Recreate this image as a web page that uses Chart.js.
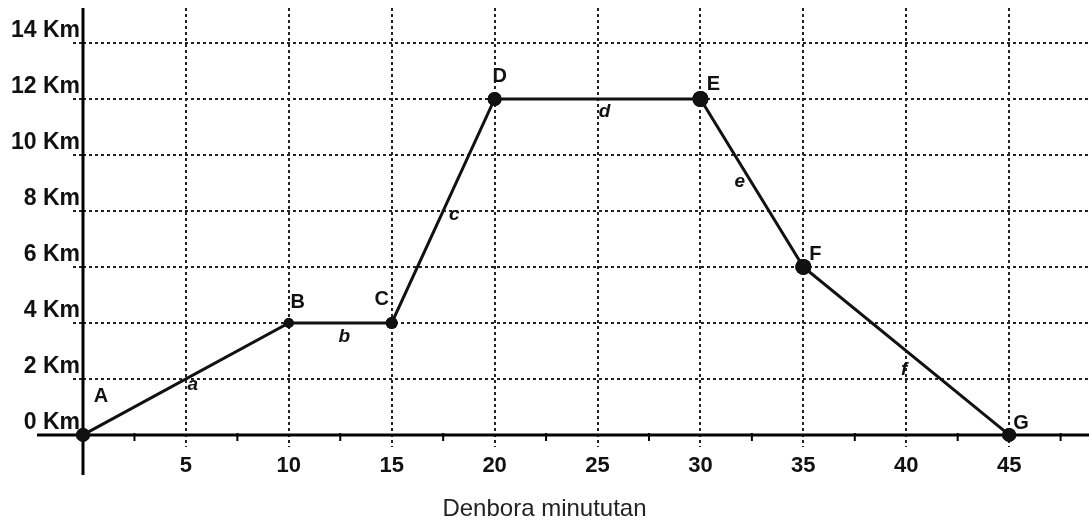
<!DOCTYPE html>
<html>
<head>
<meta charset="utf-8">
<script src="https://cdn.jsdelivr.net/npm/chart.js@4.4.1/dist/chart.umd.min.js"></script>
<style>
  html, body { margin: 0; padding: 0; background: #fff; }
  #wrap { width: 1089px; height: 524px; position: relative; }
</style>
</head>
<body>
<div id="wrap"><canvas id="chart"></canvas></div>
<script>
// distance / time graph: A..G stages, dotted grid, Basque axis title

const minutes = [0, 10, 15, 20, 30, 35, 45];
const distanceKm = [0, 4, 4, 12, 12, 6, 0];
const pointNames = ['A', 'B', 'C', 'D', 'E', 'F', 'G'];
const segmentNames = ['a', 'b', 'c', 'd', 'e', 'f'];
const xTickValues = [5, 10, 15, 20, 25, 30, 35, 40, 45];
const yTickValues = [0, 2, 4, 6, 8, 10, 12, 14];
const minorTickValues = [2.5, 7.5, 12.5, 17.5, 22.5, 27.5, 32.5, 37.5, 42.5, 47.5];
const xTitle = 'Denbora minututan';

// label placement, pixels relative to the anchor
const pointLabelOffsets = [[18, -38], [9, -20], [-10, -23], [5, -22], [13, -14], [12, -12], [12, -11]];
const segmentLabelOffsets = [[7, 6], [4, 14], [11, 4], [7, 13], [-12, -1], [-2, 19]];

const FONT = '"Liberation Sans", Arial, Helvetica, sans-serif';
const GRID = '#222';

const axesAndLabels = {
  id: 'axesAndLabels',
  afterDatasetsDraw(chart) {
    const { ctx, scales: { x, y } } = chart;
    const x0 = x.getPixelForValue(0), y0 = y.getPixelForValue(0);
    ctx.save();
    ctx.strokeStyle = '#000';
    ctx.lineWidth = 3;
    ctx.beginPath();
    ctx.moveTo(x0, chart.chartArea.top);
    ctx.lineTo(x0, y0 + 40);
    ctx.moveTo(x0 - 46, y0);
    ctx.lineTo(chart.width, y0);
    ctx.stroke();
    ctx.lineWidth = 2;
    ctx.beginPath();
    minorTickValues.forEach((v) => {
      const px = x.getPixelForValue(v);
      ctx.moveTo(px, y0 - 2);
      ctx.lineTo(px, y0 + 6);
    });
    ctx.stroke();

    // redraw points over the axis line
    const meta = chart.getDatasetMeta(0);
    meta.data.forEach((pt) => pt.draw(ctx));

    ctx.fillStyle = '#111';
    ctx.textAlign = 'center';
    ctx.textBaseline = 'middle';
    ctx.font = 'bold 20px ' + FONT;
    pointNames.forEach((name, i) => {
      const px = x.getPixelForValue(minutes[i]);
      const py = y.getPixelForValue(distanceKm[i]);
      ctx.fillText(name, px + pointLabelOffsets[i][0], py + pointLabelOffsets[i][1]);
    });
    ctx.font = 'italic bold 19px ' + FONT;
    segmentNames.forEach((name, i) => {
      const mx = (x.getPixelForValue(minutes[i]) + x.getPixelForValue(minutes[i + 1])) / 2;
      const my = (y.getPixelForValue(distanceKm[i]) + y.getPixelForValue(distanceKm[i + 1])) / 2;
      ctx.fillText(name, mx + segmentLabelOffsets[i][0], my + segmentLabelOffsets[i][1]);
    });
    ctx.restore();
  },
};

new Chart(document.getElementById('chart'), {
  type: 'line',
  data: {
    datasets: [{
      data: minutes.map((m, i) => ({ x: m, y: distanceKm[i] })),
      borderColor: '#111',
      borderWidth: 3,
      tension: 0,
      fill: false,
      pointRadius: [7, 5, 6, 7, 8, 8, 7],
      pointBackgroundColor: '#111',
      pointBorderWidth: 0,
      clip: false,
    }],
  },
  options: {
    responsive: true,
    maintainAspectRatio: false,
    animation: false,
    events: [],
    layout: { autoPadding: false, padding: { left: 0, top: 8, bottom: 0, right: 0 } },
    plugins: {
      legend: { display: false },
      tooltip: { enabled: false },
      title: {
        display: true,
        position: 'bottom',
        text: xTitle,
        color: '#222',
        font: { family: FONT, size: 24, weight: 'normal' },
        padding: { top: 6, bottom: 0 },
      },
    },
    scales: {
      x: {
        type: 'linear',
        min: 0,
        max: 48.88,
        afterBuildTicks: (s) => { s.ticks = xTickValues.map((v) => ({ value: v })); },
        afterFit: (s) => { s.height = 42; s.paddingLeft = 0; s.paddingRight = 0; },
        ticks: { color: '#111', padding: 6, font: { family: FONT, size: 22, weight: 'bold' } },
        grid: { color: GRID, lineWidth: 2, drawTicks: false },
        border: { display: false, dash: [3, 3] },
      },
      y: {
        type: 'linear',
        min: -0.44,
        max: 15.25,
        afterBuildTicks: (s) => { s.ticks = yTickValues.map((v) => ({ value: v })); },
        afterFit: (s) => { s.width = 83; s.paddingTop = 0; s.paddingBottom = 0; },
        ticks: {
          color: '#111',
          padding: -7,
          labelOffset: -12,
          font: { family: FONT, size: 23, weight: 'bold' },
          callback: (v) => v + ' Km',
        },
        grid: { color: GRID, lineWidth: 2, tickLength: 10, tickBorderDash: [3, 3] },
        border: { display: false, dash: [3, 3] },
      },
    },
  },
  plugins: [axesAndLabels],
});
</script>
</body>
</html>
